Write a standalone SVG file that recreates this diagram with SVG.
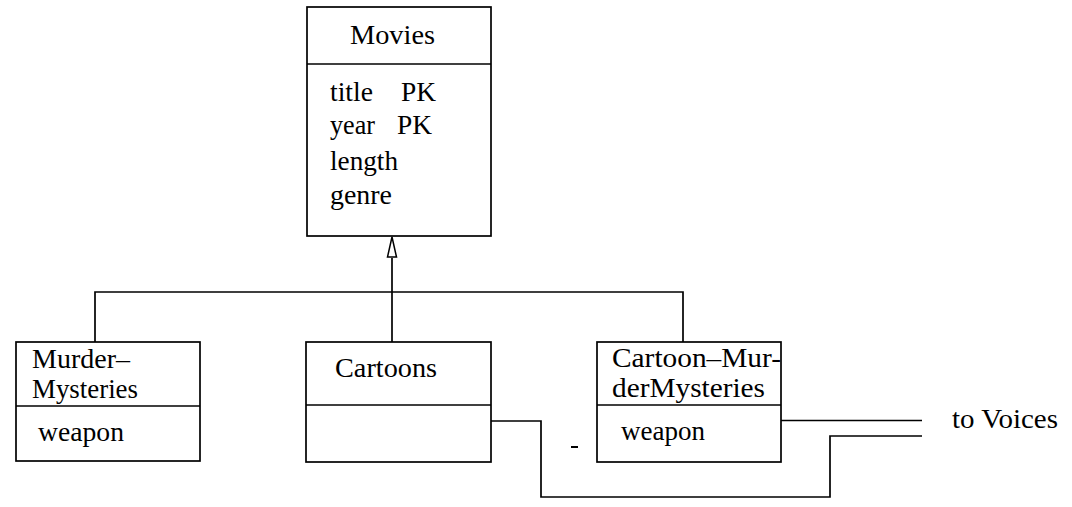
<svg xmlns="http://www.w3.org/2000/svg" width="1072" height="507" viewBox="0 0 1072 507">
<style>
.box{fill:#fff;stroke:#000;stroke-width:1.7}
.ln{fill:none;stroke:#000;stroke-width:1.7}
.head{fill:#fff;stroke:#000;stroke-width:1.5}
text{font-family:"Liberation Serif","Times New Roman",serif;font-size:28px;fill:#000}
</style>
<rect width="1072" height="507" fill="#fff"/>
<g id="connectors">
<path class="ln" d="M95,342 V292 H683 V342"/>
<line class="ln" x1="392" y1="342" x2="392" y2="258"/>
<path class="head" d="M392,237 L396.5,257 L387.5,257 Z"/>
<path class="ln" d="M491,421 H541 V497 H830 V436 H922"/>
<path class="ln" d="M781,420.5 H922"/>
<line x1="571" y1="447" x2="578" y2="447" stroke="#000" stroke-width="2"/>
</g>
<g id="movies">
<rect class="box" x="307" y="7" width="184" height="229"/>
<line class="ln" x1="307" y1="64" x2="491" y2="64"/>
<text x="350" y="44" textLength="85" lengthAdjust="spacingAndGlyphs">Movies</text>
<text x="330" y="101" textLength="43" lengthAdjust="spacingAndGlyphs">title</text>
<text x="401" y="101" textLength="35" lengthAdjust="spacingAndGlyphs">PK</text>
<text x="330" y="134" textLength="45" lengthAdjust="spacingAndGlyphs">year</text>
<text x="397" y="134" textLength="35" lengthAdjust="spacingAndGlyphs">PK</text>
<text x="330" y="170" textLength="68" lengthAdjust="spacingAndGlyphs">length</text>
<text x="330" y="204" textLength="62" lengthAdjust="spacingAndGlyphs">genre</text>
</g>
<g id="murder-mysteries">
<rect class="box" x="16" y="342" width="184" height="119"/>
<line class="ln" x1="16" y1="406" x2="200" y2="406"/>
<text x="32" y="368" textLength="98" lengthAdjust="spacingAndGlyphs">Murder–</text>
<text x="32" y="398" textLength="106" lengthAdjust="spacingAndGlyphs">Mysteries</text>
<text x="38" y="441" textLength="86" lengthAdjust="spacingAndGlyphs">weapon</text>
</g>
<g id="cartoons">
<rect class="box" x="306" y="342" width="185" height="120"/>
<line class="ln" x1="306" y1="405" x2="491" y2="405"/>
<text x="335" y="377" textLength="102" lengthAdjust="spacingAndGlyphs">Cartoons</text>
</g>
<g id="cartoon-murdermysteries">
<rect class="box" x="597" y="342" width="184" height="120"/>
<line class="ln" x1="597" y1="405" x2="781" y2="405"/>
<text x="612" y="367" textLength="169" lengthAdjust="spacingAndGlyphs">Cartoon–Mur-</text>
<text x="612" y="397" textLength="153" lengthAdjust="spacingAndGlyphs">derMysteries</text>
<text x="621" y="440" textLength="84" lengthAdjust="spacingAndGlyphs">weapon</text>
</g>
<g id="voices-label">
<text x="952" y="428" textLength="106" lengthAdjust="spacingAndGlyphs">to Voices</text>
</g>
</svg>
